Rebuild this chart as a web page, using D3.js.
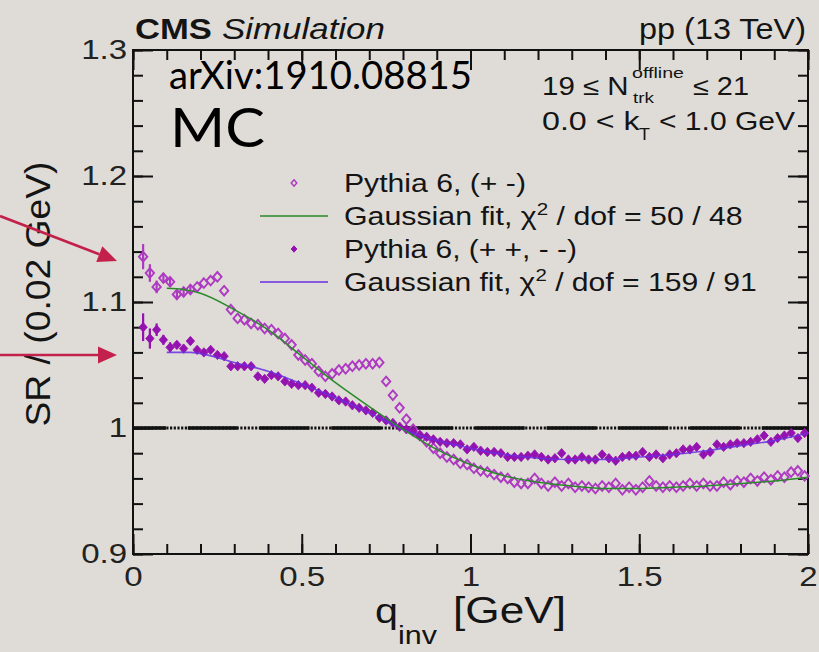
<!DOCTYPE html>
<html><head><meta charset="utf-8">
<script src="https://cdn.jsdelivr.net/npm/d3@7"></script>
<style>
html,body{margin:0;padding:0;background:#dfdcd7;}
svg{display:block;}
</style></head><body>
<svg id="c" width="819" height="652"></svg>
<script>
// ---------------- data ----------------
const qBins = [0.03,0.05,0.07,0.09,0.11,0.13,0.15,0.17,0.19,0.21,0.23,0.25,0.27,0.29,0.31,0.33,0.35,0.37,0.39,0.41,
0.43,0.45,0.47,0.49,0.51,0.53,0.55,0.57,0.59,0.61,0.63,0.65,0.67,0.69,0.71,0.73,0.75,0.77,0.79,0.81,
0.83,0.85,0.87,0.89,0.91,0.93,0.95,0.97,0.99,1.01,1.03,1.05,1.07,1.09,1.11,1.13,1.15,1.17,1.19,1.21,
1.23,1.25,1.27,1.29,1.31,1.33,1.35,1.37,1.39,1.41,1.43,1.45,1.47,1.49,1.51,1.53,1.55,1.57,1.59,1.61,
1.63,1.65,1.67,1.69,1.71,1.73,1.75,1.77,1.79,1.81,1.83,1.85,1.87,1.89,1.91,1.93,1.95,1.97,1.99];
// Pythia 6, (+ -)
const pythiaOS = [1.136,1.123,1.112,1.119,1.116,1.106,1.108,1.110,1.112,1.115,1.117,1.120,1.109,1.094,1.087,1.086,1.083,1.082,1.079,1.078,
1.075,1.071,1.066,1.058,1.054,1.051,1.045,1.041,1.043,1.046,1.047,1.049,1.050,1.051,1.051,1.052,1.037,1.026,1.016,1.007,
0.999,0.994,0.989,0.984,0.980,0.977,0.975,0.972,0.971,0.968,0.966,0.965,0.963,0.961,0.960,0.957,0.956,0.956,0.960,0.956,
0.954,0.957,0.954,0.956,0.953,0.954,0.953,0.952,0.954,0.953,0.956,0.951,0.953,0.951,0.953,0.958,0.954,0.953,0.954,0.953,
0.954,0.956,0.954,0.956,0.954,0.954,0.957,0.955,0.958,0.957,0.960,0.958,0.961,0.959,0.962,0.961,0.965,0.966,0.962];
// Pythia 6, (+ +, - -)
const pythiaSS = [1.080,1.071,1.078,1.070,1.064,1.066,1.063,1.069,1.062,1.060,1.062,1.058,1.057,1.049,1.049,1.049,1.049,1.041,1.039,1.042,
1.041,1.037,1.035,1.034,1.034,1.032,1.028,1.027,1.025,1.022,1.021,1.018,1.016,1.014,1.012,1.008,1.006,1.004,1.001,0.999,
0.997,0.994,0.993,0.991,0.989,0.988,0.988,0.987,0.983,0.985,0.982,0.981,0.981,0.980,0.977,0.977,0.977,0.978,0.979,0.977,
0.975,0.976,0.980,0.975,0.975,0.977,0.975,0.975,0.979,0.976,0.974,0.977,0.978,0.978,0.981,0.977,0.979,0.976,0.979,0.980,
0.983,0.983,0.985,0.979,0.981,0.987,0.985,0.987,0.988,0.988,0.989,0.991,0.994,0.989,0.992,0.994,0.996,0.992,0.996];
// statistical errors visible for the lowest bins
const errOS = [0.010,0.007,0.005,0.004,0.004,0.003,0.003,0.003];
const errSS = [0.011,0.008,0.005,0.004,0.004,0.003,0.003,0.003];
// Gaussian fits
const fitOSq = [0.10,0.15,0.20,0.30,0.40,0.50,0.60,0.70,0.80,0.90,1.00,1.10,1.20,1.30,1.40,1.50,1.60,1.70,1.80,1.90,2.00];
const fitOSv = [1.111,1.110,1.107,1.094,1.078,1.057,1.036,1.017,0.999,0.983,0.971,0.962,0.957,0.954,0.952,0.952,0.953,0.954,0.956,0.958,0.961];
const fitSSq = [0.10,0.17,0.20,0.30,0.40,0.50,0.60,0.70,0.80,0.90,1.00,1.10,1.20,1.30,1.40,1.50,1.60,1.70,1.80,1.90,2.00];
const fitSSv = [1.060,1.060,1.059,1.052,1.045,1.035,1.024,1.012,0.999,0.990,0.984,0.979,0.976,0.975,0.975,0.977,0.979,0.982,0.986,0.990,0.996];
const xTickVals = [0,0.5,1,1.5,2];
const xTickLabels = ["0","0.5","1","1.5","2"];
const yTickVals = [0.9,1.0,1.1,1.2,1.3];
const yTickLabels = ["0.9","1","1.1","1.2","1.3"];
const refLevel = 1.0;
const legendLabels = ["Pythia 6, (+ -)","Gaussian fit, χ","Pythia 6, (+ +, - -)","Gaussian fit, χ"];
const legendTails = ["", " / dof = 50 / 48", "", " / dof = 159 / 91"];

// ---------------- styles ----------------
const C_OS = "#ae3ac2", C_SS = "#9412b0", C_FOS = "#2a8a2a", C_FSS = "#6a2ee0", C_ARROW = "#c3214b";
const FONT = "'Liberation Sans', Arial, sans-serif";
const svg = d3.select("#c");
const L = 133, R = 808, T = 50, B = 554;
const x = d3.scaleLinear().domain([0,2]).range([L,R]);
const y = d3.scaleLinear().domain([0.9,1.3]).range([B,T]);

// text fitted to a target width
function fitText(parent, str, px, py, size, width, opt={}) {
  const g = parent.append("g").attr("transform", `translate(${px},${py})`);
  const t = g.append("text").attr("font-family", opt.family || FONT).attr("font-size", size)
    .attr("fill", opt.fill || "#141414").attr("text-anchor", opt.anchor || "start")
    .attr("font-weight", opt.weight || "normal").attr("font-style", opt.style || "normal");
  if (typeof str === "function") str(t); else t.text(str);
  const len = t.node().getComputedTextLength();
  const s = width / len;
  g.attr("transform", `translate(${px},${py})` + (opt.rotate ? ` rotate(${opt.rotate})` : "") + ` scale(${s},1)`);
  return t;
}

// ---------------- axes & frame ----------------
const SX = 1.18;
function styleAxis(g) {
  g.select(".domain").remove();
  g.selectAll(".tick line").attr("stroke", "#111").attr("stroke-width", 2);
  g.selectAll("text").attr("font-family", FONT).attr("font-size", 28).attr("fill", "#222");
}
// minor ticks
svg.append("g").attr("transform", `translate(0,${B})`).call(d3.axisBottom(x).ticks(20).tickSize(-10).tickFormat("")).call(styleAxis);
svg.append("g").attr("transform", `translate(0,${T})`).call(d3.axisTop(x).ticks(20).tickSize(-10).tickFormat("")).call(styleAxis);
svg.append("g").attr("transform", `translate(${L},0)`).call(d3.axisLeft(y).ticks(20).tickSize(-10).tickFormat("")).call(styleAxis);
svg.append("g").attr("transform", `translate(${R},0)`).call(d3.axisRight(y).ticks(20).tickSize(-10).tickFormat("")).call(styleAxis);
// major ticks
const xb = svg.append("g").attr("transform", `translate(0,${B})`)
  .call(d3.axisBottom(x).tickValues(xTickVals).tickSize(-20).tickPadding(12).tickFormat((d,i)=>xTickLabels[i])).call(styleAxis);
xb.selectAll("text").attr("transform", `scale(${SX},1)`);
svg.append("g").attr("transform", `translate(0,${T})`).call(d3.axisTop(x).tickValues(xTickVals).tickSize(-20).tickFormat("")).call(styleAxis);
const yl = svg.append("g").attr("transform", `translate(${L},0)`)
  .call(d3.axisLeft(y).tickValues(yTickVals).tickSize(-20).tickPadding(5).tickFormat((d,i)=>yTickLabels[i])).call(styleAxis);
yl.selectAll("text").attr("transform", `scale(${SX},1)`);
svg.append("g").attr("transform", `translate(${R},0)`).call(d3.axisRight(y).tickValues(yTickVals).tickSize(-20).tickFormat("")).call(styleAxis);
svg.append("rect").attr("x", L).attr("y", T).attr("width", R-L).attr("height", B-T)
  .attr("fill", "none").attr("stroke", "#111").attr("stroke-width", 2);

// reference line at 1 (dashed solid segments over a dotted line)
svg.append("line").attr("x1", x(0)).attr("x2", x(2)).attr("y1", y(refLevel)).attr("y2", y(refLevel))
  .attr("stroke", "#111").attr("stroke-width", 3).attr("stroke-dasharray", "2.2 1.5");
svg.append("line").attr("x1", x(0)).attr("x2", x(2)).attr("y1", y(refLevel)).attr("y2", y(refLevel))
  .attr("stroke", "#111").attr("stroke-width", 3.4).attr("stroke-dasharray", "50 21.75").attr("stroke-dashoffset", 17);

// ---------------- data marks ----------------
const openD = "M0,-4.8L4.2,0L0,4.8L-4.2,0Z";
const fillD = "M0,-4.7L4.2,0L0,4.7L-4.2,0Z";
const gp = svg.append("g");
// error bars
gp.selectAll("line.eos").data(errOS).join("line")
  .attr("x1",(d,i)=>x(qBins[i])).attr("x2",(d,i)=>x(qBins[i]))
  .attr("y1",(d,i)=>y(pythiaOS[i]+d)).attr("y2",(d,i)=>y(pythiaOS[i]-d))
  .attr("stroke", C_OS).attr("stroke-width", 2.2);
gp.selectAll("line.ess").data(errSS).join("line")
  .attr("x1",(d,i)=>x(qBins[i])).attr("x2",(d,i)=>x(qBins[i]))
  .attr("y1",(d,i)=>y(pythiaSS[i]+d)).attr("y2",(d,i)=>y(pythiaSS[i]-d))
  .attr("stroke", C_SS).attr("stroke-width", 2.2);
gp.selectAll("path.os").data(pythiaOS).join("path").attr("class","os")
  .attr("d", openD).attr("transform",(d,i)=>`translate(${x(qBins[i])},${y(d)})`)
  .attr("fill","none").attr("stroke", C_OS).attr("stroke-width", 1.9);
gp.selectAll("path.ss").data(pythiaSS).join("path").attr("class","ss")
  .attr("d", fillD).attr("transform",(d,i)=>`translate(${x(qBins[i])},${y(d)})`)
  .attr("fill", C_SS).attr("stroke", C_SS).attr("stroke-width", 0.8);

const line = d3.line().curve(d3.curveMonotoneX).x(d=>x(d[0])).y(d=>y(d[1]));
svg.append("path").attr("d", line(fitSSq.map((q,i)=>[q,fitSSv[i]])))
  .attr("fill","none").attr("stroke", C_FSS).attr("stroke-width", 1.6).attr("opacity", 0.85);
svg.append("path").attr("d", line(fitOSq.map((q,i)=>[q,fitOSv[i]])))
  .attr("fill","none").attr("stroke", C_FOS).attr("stroke-width", 1.5);

// ---------------- legend ----------------
const lg = svg.append("g");
const rowsY = [192, 225, 258, 291];
const rowsW = [182, 399, 233, 413];
lg.append("path").attr("d", "M0,-3.2L2.8,0L0,3.2L-2.8,0Z").attr("transform", `translate(294,${rowsY[0]-9})`)
  .attr("fill","none").attr("stroke", C_OS).attr("stroke-width", 1.5);
lg.append("line").attr("x1",260).attr("x2",328).attr("y1",rowsY[1]-9).attr("y2",rowsY[1]-9).attr("stroke", C_FOS).attr("stroke-width", 1.6);
lg.append("path").attr("d", "M0,-3.2L2.8,0L0,3.2L-2.8,0Z").attr("transform", `translate(294,${rowsY[2]-9})`)
  .attr("fill", C_SS).attr("stroke", C_SS).attr("stroke-width", 1);
lg.append("line").attr("x1",260).attr("x2",328).attr("y1",rowsY[3]-9).attr("y2",rowsY[3]-9).attr("stroke", C_FSS).attr("stroke-width", 1.6);
legendLabels.forEach((lab,i)=>{
  fitText(lg, t=>{
    t.append("tspan").text(lab);
    if (legendTails[i]) {
      t.append("tspan").attr("font-size", 17).attr("dy", -10).text("2");
      t.append("tspan").attr("dy", 10).text(legendTails[i]);
    }
  }, 344, rowsY[i], 25, rowsW[i]);
});

// ---------------- titles ----------------
fitText(svg, "CMS", 135, 39, 29, 77, {weight:"bold"});
fitText(svg, "Simulation", 222, 39, 29, 163, {style:"italic"});
fitText(svg, "pp (13 TeV)", 806, 39, 29, 167, {anchor:"end"});
fitText(svg, "arXiv:1910.08815", 169, 89, 39, 303, {family:"Lato, 'Open Sans', sans-serif", fill:"#000"});
fitText(svg, "MC", 170, 147, 55, 95, {family:"Lato, 'Open Sans', sans-serif", fill:"#000"});

fitText(svg, "19 ≤ N", 542, 95, 25, 86.6);
fitText(svg, "offline", 632, 78, 15, 52);
fitText(svg, "trk", 633, 103, 15, 21);
fitText(svg, "≤ 21", 693, 95, 25, 56);
fitText(svg, "0.0 < k", 542, 130, 25, 97.6);
fitText(svg, "T", 639, 140, 16, 11);
fitText(svg, "< 1.0 GeV", 659, 130, 25, 136);

// axis titles
fitText(svg, "q", 375, 623, 36, 23);
fitText(svg, "inv", 398, 644, 25, 39);
fitText(svg, "[GeV]", 453, 623, 36, 113);
fitText(svg, "SR / (0.02 GeV)", 50, 294, 36, 265, {anchor:"middle", rotate:-90});

// ---------------- arrows ----------------
function arrow(x1,y1,x2,y2){
  const a = Math.atan2(y2-y1, x2-x1), hl = 19, hw = 8.5;
  const bx = x2 - hl*Math.cos(a), by = y2 - hl*Math.sin(a);
  svg.append("line").attr("x1",x1).attr("y1",y1).attr("x2",bx).attr("y2",by)
    .attr("stroke", C_ARROW).attr("stroke-width", 2.6);
  svg.append("path").attr("d", `M${x2},${y2}L${bx - hw*Math.sin(a)},${by + hw*Math.cos(a)}L${bx + hw*Math.sin(a)},${by - hw*Math.cos(a)}Z`)
    .attr("fill", C_ARROW);
}
arrow(0, 216, 117, 261);
arrow(0, 355, 117, 355);
</script>
</body></html>
